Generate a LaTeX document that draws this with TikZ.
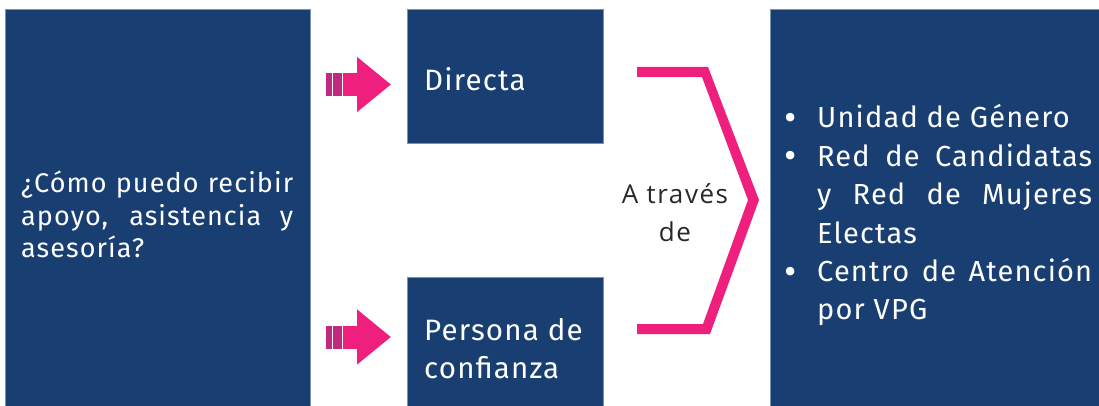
\documentclass[tikz,border=0pt]{standalone}
\usepackage{fontspec}
\setmainfont{Fira Sans}[LetterSpace=4]
\newfontfamily\viafont{Open Sans}[LetterSpace=6]
\usetikzlibrary{arrows.meta,positioning}
\definecolor{boxblue}{RGB}{25,63,114}
\definecolor{boxedge}{RGB}{120,145,180}
\definecolor{vpink}{RGB}{238,31,125}
\definecolor{vstripe}{RGB}{192,41,128}
\definecolor{txtgray}{RGB}{40,40,40}
\newcommand{\itembullet}{\leavevmode\llap{\raisebox{-2.5pt}{\scalebox{1.3}{•}}\hspace{20pt}}}

\begin{document}
\begin{tikzpicture}[x=1pt,y=-1pt,
    box/.style={fill=boxblue,draw=boxedge,line width=0.5pt,anchor=north west,inner sep=0pt},
    boxtext/.style={white,inner sep=0pt,anchor=base west,align=justify},
    pinkarrow/.style={vpink,line width=23pt,-{Triangle[length=34pt,width=53pt]}},
    stripebar/.style={fill=vstripe}]
  \useasboundingbox[fill=white] (0,0) rectangle (1099,406);

  % blue boxes
  \node[box,minimum width=305pt,minimum height=397pt] (ask) at (5,9) {};
  \node[box,minimum width=196pt,minimum height=134pt] (direct) at (407,9) {};
  \node[box,minimum width=196pt,minimum height=129pt] (trust) at (407,277) {};
  \node[box,minimum width=335pt,minimum height=397pt] (units) at (770,9) {};

  % texts
  \node[boxtext,text width=272pt,font=\fontsize{27}{32.5}\selectfont] (asktext) at (21,193)
    {¿Cómo puedo recibir\linebreak apoyo, asistencia y\linebreak asesoría?};
  \node[boxtext,font=\fontsize{29.5}{38}\selectfont] (directtext) at (424,91) {Directa};
  \node[boxtext,align=left,font=\fontsize{29.5}{38}\selectfont] (trusttext) at (424,378)
    {Persona de\\confianza};
  \node[boxtext,text width=275pt,font=\fontsize{29}{38.4}\selectfont] (unitstext) at (817,128)
    {\itembullet Unidad de Género\par
     \itembullet Red de Candidatas\linebreak y Red de Mujeres\linebreak Electas\par
     \itembullet Centro de Atención\linebreak por VPG};
  \node[txtgray,inner sep=0pt,align=center,font=\viafont\fontsize{26}{38}\selectfont] (via) at (675,213)
    {A través\\de};

  % pink arrows
  \coordinate (a1) at (343,84.5);
  \coordinate (a1tip) at ([xshift=-16pt]direct.west |- a1);
  \fill[stripebar] (326,73) rectangle (332,96);
  \fill[stripebar] (333,73) rectangle (342,96);
  \draw[pinkarrow] (a1) -- (a1tip);

  \coordinate (a2) at (343,337);
  \coordinate (a2tip) at ([xshift=-16pt]trust.west |- a2);
  \fill[stripebar] (326,325.5) rectangle (332,348.5);
  \fill[stripebar] (333,325.5) rectangle (342,348.5);
  \draw[pinkarrow] (a2) -- (a2tip);

  % bracket
  \fill[vpink] (637,67) -- (708,67) -- (759,200) -- (710,334) -- (637,334) -- (637,324)
    -- (703,324) -- (748,200) -- (702,77) -- (637,77) -- cycle;
\end{tikzpicture}
\end{document}
